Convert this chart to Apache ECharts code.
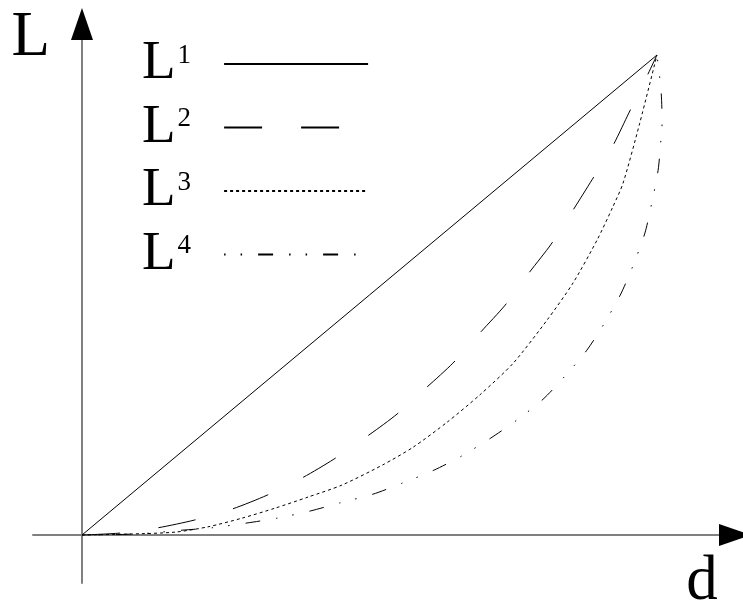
<!DOCTYPE html>
<html>
<head>
<meta charset="utf-8">
<script src="https://cdn.jsdelivr.net/npm/echarts@6/dist/echarts.min.js"></script>
<style>
  html, body { margin: 0; padding: 0; background: #fff; }
  #chart { width: 743px; height: 611px; }
</style>
</head>
<body>
<div id="chart"></div>
<script>
// Curve names and their superscript indices
const seriesNames = ['L1', 'L2', 'L3', 'L4'];
const superscripts = ['1', '2', '3', '4'];

// [d, L] points of each curve (both scaled 0..100)
const curveL1 = [[0, 0], [100, 100]];
const curveL2 = [[0, 0], [6.6, 0.4], [13.2, 1.5], [19.5, 3.1], [26.1, 5.4], [32.2, 8.3], [38.3, 11.9],
  [43.8, 15.8], [50.1, 21.0], [54.8, 25.2], [59.8, 30.6], [64.5, 35.8], [69.2, 42.1], [73.6, 47.9],
  [77.6, 54.4], [81.6, 60.6], [85.2, 67.3], [88.7, 74.0], [92.2, 80.8], [95.1, 87.9], [98.1, 95.2], [100, 100]];
const curveL3 = [[0, 0], [8.3, 0.2], [16.2, 0.6], [21.9, 1.7], [27.8, 3.5], [33.6, 5.6], [39.3, 7.9],
  [45.2, 10.4], [52.3, 14.6], [57.6, 18.3], [63.5, 23.5], [69.2, 29.2], [75.0, 35.8], [80.9, 44.8],
  [85.4, 52.5], [89.6, 61.5], [92.3, 68.3], [94.1, 73.3], [97.0, 85.8], [100, 100]];
const curveL4 = [[0, 0], [6.6, 0.1], [11.8, 0.4], [17.4, 1.0], [22.6, 1.5], [28.7, 2.5], [33.9, 3.5],
  [39.7, 5.0], [44.9, 6.7], [50.6, 8.5], [55.7, 10.8], [61.2, 13.5], [66.1, 16.5], [71.1, 20.2],
  [75.7, 24.0], [80.2, 28.3], [84.0, 33.1], [87.8, 38.5], [90.8, 44.0], [93.7, 50.2], [95.8, 56.0],
  [97.9, 62.9], [99.1, 69.2], [100.2, 76.0], [100.7, 82.5], [100.9, 86.0], [100.7, 92.7], [100, 100]];

// Axis titles
const xAxisTitle = 'd';
const yAxisTitle = 'L';

const curves = [curveL1, curveL2, curveL3, curveL4];
// solid, long dash, dotted, dash-dot-dot
const dashes = ['solid', [38, 39], [3, 3], [1.5, 15, 1.5, 16, 15, 16]];

const serif = "'Liberation Serif', 'Times New Roman', serif";
const AXIS_MIN_X = -8.52, AXIS_MAX_X = 113.57;
const AXIS_MIN_Y = -10, AXIS_MAX_Y = 106.46;

function hiddenParts(ax) {
  return Object.assign({
    axisTick: { show: false },
    axisLabel: { show: false },
    splitLine: { show: false }
  }, ax);
}

const chart = echarts.init(document.getElementById('chart'), null, { renderer: 'canvas' });

chart.setOption({
  backgroundColor: '#fff',
  animation: false,
  grid: { left: 33, right: 8, top: 24, bottom: 28, containLabel: false, outerBoundsMode: 'none' },
  legend: {
    data: seriesNames,
    orient: 'vertical',
    left: 142,
    top: 36,
    padding: 0,
    itemGap: 8,
    itemWidth: 144,
    itemHeight: 20,
    align: 'right',
    selectedMode: false,
    itemStyle: { opacity: 0 },
    formatter: function (name) {
      return '{l|L}{s|' + superscripts[seriesNames.indexOf(name)] + '}';
    },
    textStyle: {
      color: '#000',
      rich: {
        l: { fontFamily: serif, fontSize: 55, lineHeight: 56, color: '#000' },
        s: { fontFamily: serif, fontSize: 27, lineHeight: 27, color: '#000',
             verticalAlign: 'top', padding: [6, 28, 0, 2] }
      }
    }
  },
  xAxis: [
    // grey axis line through the origin, carrying the axis title
    hiddenParts({
      type: 'value', min: AXIS_MIN_X, max: AXIS_MAX_X,
      axisLine: { show: true, onZero: true, lineStyle: { color: '#808080', width: 2 } },
      name: xAxisTitle, nameLocation: 'end', nameGap: -33,
      nameTextStyle: { fontFamily: serif, fontSize: 63, color: '#000',
                       align: 'center', verticalAlign: 'top', padding: [16, 0, 0, 0] }
    }),
    // black arrow head at the end of the axis
    hiddenParts({
      type: 'value', min: AXIS_MIN_X, max: AXIS_MAX_X,
      axisLine: { show: true, onZero: true, onZeroAxisIndex: 0,
                  lineStyle: { color: '#000', width: 0 },
                  symbol: ['none', 'triangle'], symbolSize: [22, 32] }
    })
  ],
  yAxis: [
    hiddenParts({
      type: 'value', min: AXIS_MIN_Y, max: AXIS_MAX_Y,
      axisLine: { show: true, onZero: true, lineStyle: { color: '#808080', width: 2 } },
      name: yAxisTitle, nameLocation: 'end', nameGap: -14,
      nameTextStyle: { fontFamily: serif, fontSize: 63, color: '#000',
                       align: 'right', verticalAlign: 'middle', padding: [0, 32, 0, 0] }
    }),
    hiddenParts({
      type: 'value', min: AXIS_MIN_Y, max: AXIS_MAX_Y,
      axisLine: { show: true, onZero: true, onZeroAxisIndex: 0,
                  lineStyle: { color: '#000', width: 0 },
                  symbol: ['none', 'triangle'], symbolSize: [22, 32] }
    })
  ],
  series: seriesNames.map(function (name, i) {
    return {
      name: name,
      type: 'line',
      xAxisIndex: 0,
      yAxisIndex: 0,
      data: curves[i],
      symbol: 'none',
      smooth: i === 0 ? false : 0.25,
      clip: false,
      lineStyle: { color: '#000', width: 1, type: dashes[i] },
      z: 3
    };
  })
});
</script>
</body>
</html>
